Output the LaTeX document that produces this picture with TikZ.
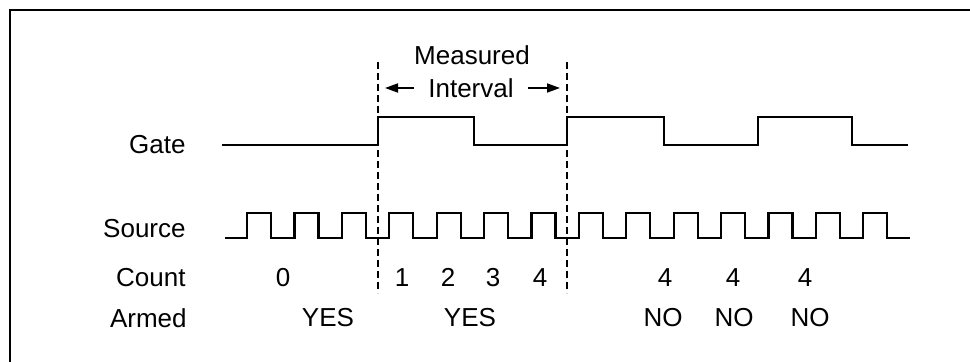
\documentclass[tikz,border=0pt]{standalone}
\usepackage{fontspec}
\setmainfont{Liberation Sans}
\usetikzlibrary{arrows.meta,positioning}

\begin{document}
\begin{tikzpicture}[
    x=0.5pt, y=-0.5pt,
    every node/.style={font=\fontsize{13}{15}\selectfont, inner sep=0pt},
    rowlabel/.style={anchor=east},
    value/.style={anchor=base},
    signal/.style={line width=1.1pt, line join=miter},
    marker/.style={line width=1pt, dash pattern=on 3.5pt off 2pt},
    span/.style={-{Triangle[length=6.5pt,width=4.5pt]}, line width=0.9pt, shorten >=3.5pt},
]
\useasboundingbox (0,0) rectangle (970,362);

% Frame
\draw[line width=1.4pt] (10,362) -- (10,10) -- (970,10);

% Row labels
\node[rowlabel] (gate) at (186,145) {Gate};
\node[rowlabel] (source) at (186,229) {Source};
\node[rowlabel] (count) at (186,278) {Count};
\node[rowlabel] (armed) at (187,318) {Armed};

% Gate signal
\draw[signal] (222,145) -- (378,145) -- (378,117) -- (474,117) -- (474,145)
    -- (567,145) -- (567,117) -- (664,117) -- (664,145)
    -- (758,145) -- (758,117) -- (852,117) -- (852,145) -- (908,145);

% Source clock
\draw[signal] (225,238) \foreach \k in {0,...,13} {
    -- ({247+47.4*\k},238) -- ++(0,-25) -- ++(24,0) -- ++(0,25)} -- (910,238);

% Interval markers
\draw[marker] (378,62) -- (378,293);
\draw[marker] (567,62) -- (567,293);
\coordinate (open) at (378,88);
\coordinate (close) at (567,88);

% Measured interval label
\node (measured) at (472,55) {Measured};
\node[inner xsep=7pt] (interval) at (471,88) {Interval};
\draw[span] (interval.west) -- (open);
\draw[span] (interval.east) -- (close);

% Count values
\foreach \x/\t [count=\i] in {283/0, 402/1, 448/2, 493/3, 540/4, 665/4, 733/4, 805/4}
    \node[value] (count\i) at (\x,287) {\t};

% Armed states
\foreach \x/\t [count=\i] in {328/YES, 470/YES, 663/NO, 734/NO, 810/NO}
    \node[value] (armed\i) at (\x,327) {\t};

\end{tikzpicture}
\end{document}
